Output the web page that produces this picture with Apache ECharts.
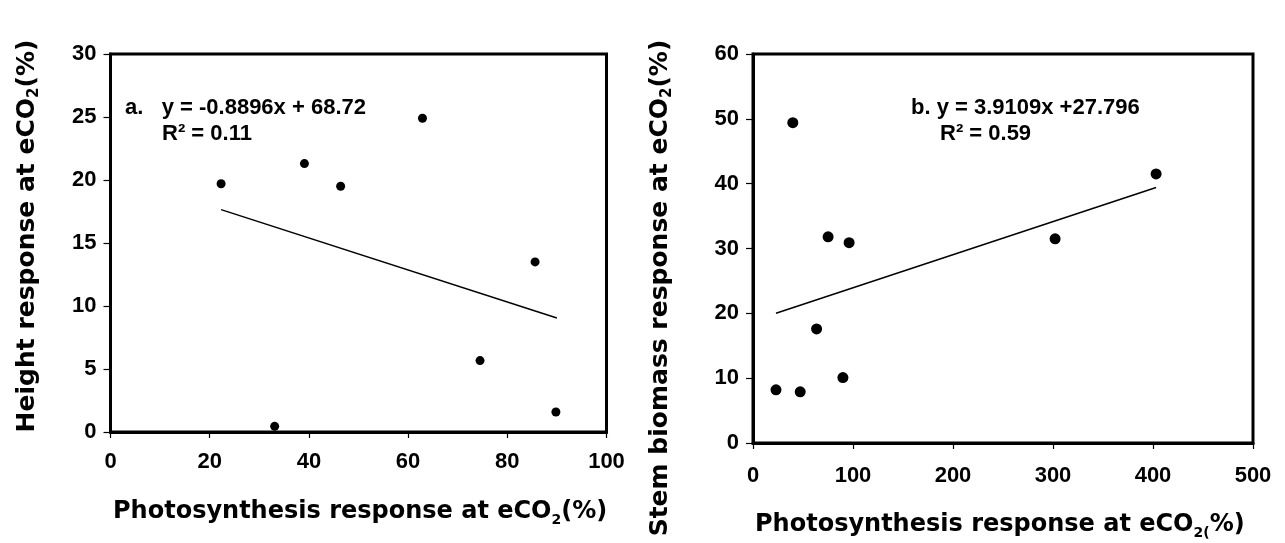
<!DOCTYPE html>
<html>
<head>
<meta charset="utf-8">
<script src="https://cdn.jsdelivr.net/npm/echarts@6/dist/echarts.min.js"></script>
<style>
html,body{margin:0;padding:0;background:#fff;}
#c{width:1285px;height:543px;}
</style>
</head>
<body>
<div id="c"></div>
<script>
// Panel a: photosynthesis response vs height response
const photoA = [22.3, 33.1, 39.1, 46.4, 62.9, 74.5, 85.6, 89.8];
const heightA = [19.7, 0.45, 21.3, 19.5, 24.9, 5.67, 13.5, 1.59];
const trendAX = [22.3, 90.0];
const trendAY = [17.65, 9.05];
// Panel b: photosynthesis response vs stem biomass response
const photoB = [23.0, 39.8, 47.2, 63.6, 75.1, 89.9, 96.1, 302.1, 403.1];
const stemB = [8.2, 49.4, 7.9, 17.6, 31.8, 10.1, 30.9, 31.5, 41.5];
const trendBX = [23.0, 403.1];
const trendBY = [20.0, 39.4];
// axis ticks
const xTicksA = [0, 20, 40, 60, 80, 100];
const yTicksA = [0, 5, 10, 15, 20, 25, 30];
const xTicksB = [0, 100, 200, 300, 400, 500];
const yTicksB = [0, 10, 20, 30, 40, 50, 60];
// texts
const eqA = 'a.   y = -0.8896x + 68.72';
const r2A = 'R² = 0.11';
const eqB = 'b. y = 3.9109x +27.796';
const r2B = 'R² = 0.59';

const pair = (xs, ys) => xs.map((x, i) => [x, ys[i]]);
const TF = 'DejaVu Sans';
const LF = 'Liberation Sans';

function axisX(gi, ticks, margin) {
  return {
    gridIndex: gi, type: 'value',
    min: ticks[0], max: ticks[ticks.length - 1], interval: ticks[1] - ticks[0],
    axisLine: {show: true, onZero: false, lineStyle: {color: '#000', width: 3}},
    axisTick: {show: true, inside: false, length: 6, lineStyle: {color: '#000', width: 1.2}},
    axisLabel: {show: true, margin: margin, color: '#000', fontFamily: LF, fontWeight: 'bold', fontSize: 22},
    splitLine: {show: false}
  };
}
function axisY(gi, ticks) {
  return {
    gridIndex: gi, type: 'value',
    min: ticks[0], max: ticks[ticks.length - 1], interval: ticks[1] - ticks[0],
    axisLine: {show: true, onZero: false, lineStyle: {color: '#000', width: 3}},
    axisTick: {show: true, inside: false, length: 7, lineStyle: {color: '#000', width: 1.2}},
    axisLabel: {show: true, margin: 14, color: '#000', fontFamily: LF, fontWeight: 'bold', fontSize: 22},
    splitLine: {show: false}
  };
}

const titleRich = (fs) => ({
  n: {fontFamily: TF, fontWeight: 'bold', fontSize: fs, lineHeight: 30, verticalAlign: 'middle', fill: '#000'},
  s: {fontFamily: TF, fontWeight: 'bold', fontSize: Math.round(fs * 0.6), lineHeight: 14, verticalAlign: 'bottom', fill: '#000'}
});

function txt(x, y, text, opts, rot) {
  const el = {
    type: 'text', x: x, y: y,
    style: Object.assign({text: text, fill: '#000'}, opts)
  };
  if (rot) el.rotation = rot;
  return el;
}
const eqStyle = {fontFamily: LF, fontWeight: 'bold', fontSize: 22, align: 'left', verticalAlign: 'middle'};

const chart = echarts.init(document.getElementById('c'), null, {renderer: 'canvas'});
chart.setOption({
  backgroundColor: '#fff',
  animation: false,
  grid: [
    {left: 110.5, right: 678.5, top: 54, bottom: 111, show: true, borderColor: '#000', borderWidth: 3, backgroundColor: 'transparent'},
    {left: 753, right: 32, top: 54, bottom: 100, show: true, borderColor: '#000', borderWidth: 3, backgroundColor: 'transparent'}
  ],
  xAxis: [axisX(0, xTicksA, 19), axisX(1, xTicksB, 22)],
  yAxis: [axisY(0, yTicksA), axisY(1, yTicksB)],
  series: [
    {type: 'line', xAxisIndex: 0, yAxisIndex: 0, data: pair(trendAX, trendAY), symbol: 'none',
     lineStyle: {color: '#000', width: 1.5}, z: 2},
    {type: 'scatter', xAxisIndex: 0, yAxisIndex: 0, data: pair(photoA, heightA), symbol: 'circle', symbolSize: 9,
     itemStyle: {color: '#000', opacity: 1}, z: 3},
    {type: 'line', xAxisIndex: 1, yAxisIndex: 1, data: pair(trendBX, trendBY), symbol: 'none',
     lineStyle: {color: '#000', width: 1.5}, z: 2},
    {type: 'scatter', xAxisIndex: 1, yAxisIndex: 1, data: pair(photoB, stemB), symbol: 'circle', symbolSize: 11,
     itemStyle: {color: '#000', opacity: 1}, z: 3}
  ],
  graphic: [
    // y axis titles (rotated)
    txt(27, 236, '{n|Height response at eCO}{s|2}{n|(%)}', {rich: titleRich(25), align: 'center', verticalAlign: 'middle'}, Math.PI / 2),
    txt(660, 288, '{n|Stem biomass response at eCO}{s|2}{n|(%)}', {rich: titleRich(25), align: 'center', verticalAlign: 'middle'}, Math.PI / 2),
    // x axis titles
    txt(113, 512, '{n|Photosynthesis response at eCO}{s|2}{n|(%)}', {rich: titleRich(24), align: 'left', verticalAlign: 'middle'}),
    txt(755, 525, '{n|Photosynthesis response at eCO}{s|2(}{n|%)}', {rich: titleRich(24), align: 'left', verticalAlign: 'middle'}),
    // regression equations
    txt(125, 107.5, eqA, eqStyle),
    txt(162, 134, r2A, eqStyle),
    txt(911, 107.5, eqB, eqStyle),
    txt(940, 134, r2B, eqStyle)
  ]
});
</script>
</body>
</html>
